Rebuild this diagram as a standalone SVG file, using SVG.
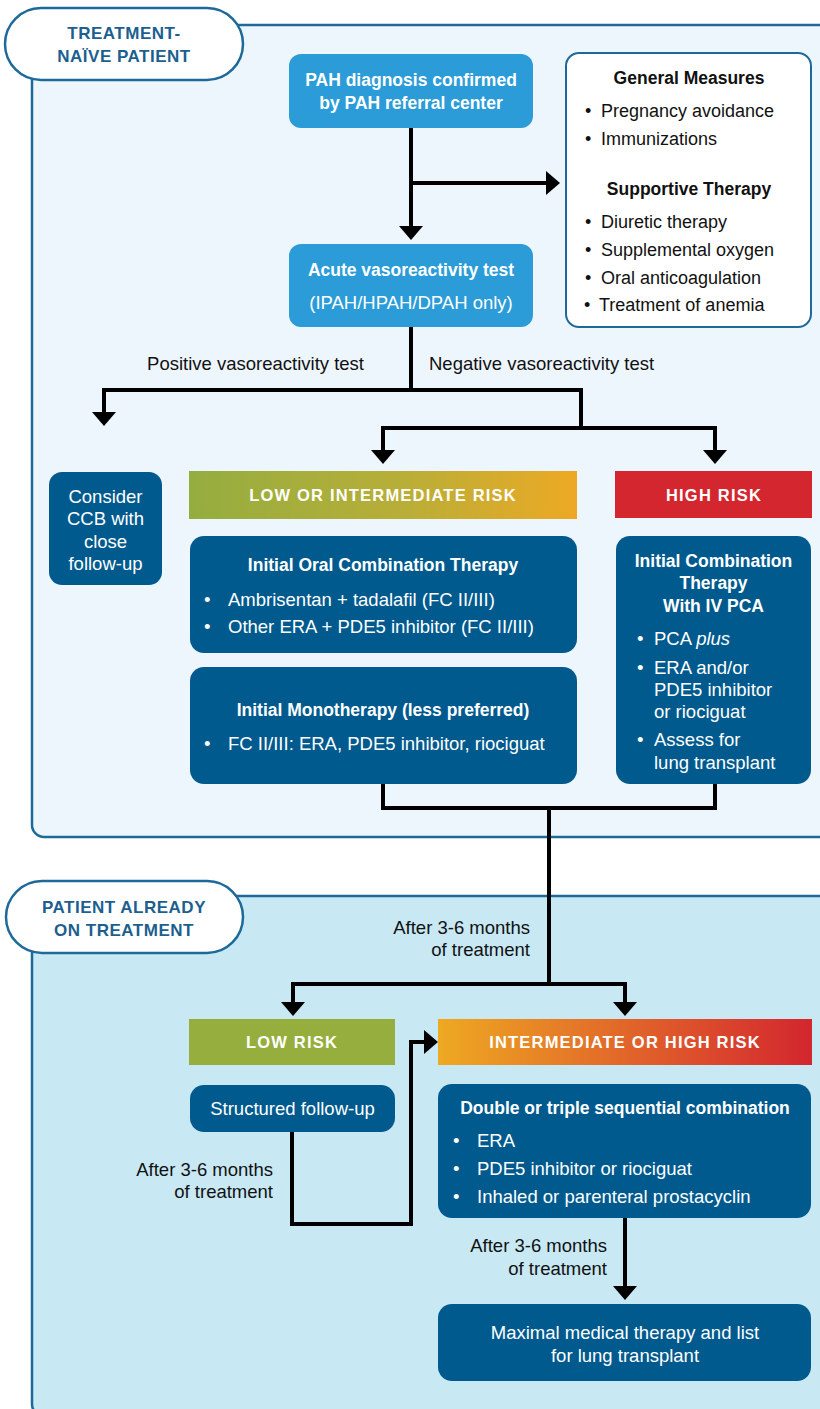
<svg xmlns="http://www.w3.org/2000/svg" width="820" height="1409" viewBox="0 0 820 1409">
<defs>
<style>
text{font-family:"Liberation Sans","DejaVu Sans",sans-serif;}
.panel{stroke:#1d6a9a;stroke-width:2.5;}
.pill{fill:#ffffff;stroke:#1d6a9a;stroke-width:2.5;}
.pilltxt{fill:#1c5f8f;font-weight:bold;font-size:17px;text-anchor:middle;letter-spacing:0.5px;}
.lb{fill:#2b9cd8;}
.db{fill:#005a8e;}
.wb{fill:#ffffff;stroke:#1d6a9a;stroke-width:2;}
.wt{fill:#ffffff;font-size:18.5px;}
.wtb{fill:#ffffff;font-size:17.5px;font-weight:bold;}
.c{text-anchor:middle;}
.r{text-anchor:end;}
.kt{fill:#111111;font-size:18px;}
.ktb{fill:#111111;font-size:17.5px;font-weight:bold;}
.risk{fill:#ffffff;font-size:16.5px;font-weight:bold;text-anchor:middle;letter-spacing:1.2px;}
.lbl{fill:#111111;font-size:18.5px;}
.conn{fill:none;stroke:#000000;stroke-width:4;stroke-linejoin:miter;}
</style>
<marker id="arr" markerUnits="userSpaceOnUse" markerWidth="16" markerHeight="26" viewBox="0 0 15 26" refX="4" refY="13" orient="auto">
<path d="M0,1 L14,13 L0,25 z" fill="#000000"/>
</marker>
<linearGradient id="gLowInt" x1="0" y1="0" x2="1" y2="0">
<stop offset="0" stop-color="#94ad3f"/>
<stop offset="0.55" stop-color="#b8ae38"/>
<stop offset="1" stop-color="#eda924"/>
</linearGradient>
<linearGradient id="gIntHigh" x1="0" y1="0" x2="1" y2="0">
<stop offset="0" stop-color="#eea922"/>
<stop offset="0.5" stop-color="#e1662a"/>
<stop offset="1" stop-color="#d3262f"/>
</linearGradient>
</defs>

<g id="panel-naive">
<rect class="panel" x="32" y="25" width="800" height="812" rx="12" fill="#eef6fd"/>
</g>
<g id="panel-treated">
<rect class="panel" x="32" y="896" width="800" height="520" rx="12" fill="#c8e8f4"/>
</g>

<g id="pill-naive">
<rect class="pill" x="5" y="8" width="238" height="72" rx="36"/>
<text class="pilltxt" x="124" y="39">TREATMENT-</text>
<text class="pilltxt" x="124" y="62">NAÏVE PATIENT</text>
</g>
<g id="pill-treated">
<rect class="pill" x="6" y="881" width="237" height="72" rx="36"/>
<text class="pilltxt" x="124" y="913">PATIENT ALREADY</text>
<text class="pilltxt" x="124" y="936">ON TREATMENT</text>
</g>

<g id="connectors">
<path class="conn" d="M411,128 V230" marker-end="url(#arr)"/>
<path class="conn" d="M411,183 H550" marker-end="url(#arr)"/>
<path class="conn" d="M411,327 V390 H104 V416" marker-end="url(#arr)"/>
<path class="conn" d="M409,390 H581 V428"/>
<path class="conn" d="M581,428 H383 V454" marker-end="url(#arr)"/>
<path class="conn" d="M579,428 H715 V454" marker-end="url(#arr)"/>
<path class="conn" d="M383,784 V808 H715 V784"/>
<path class="conn" d="M549,808 V984"/>
<path class="conn" d="M551,984 H293 V1006" marker-end="url(#arr)"/>
<path class="conn" d="M547,984 H625 V1006" marker-end="url(#arr)"/>
<path class="conn" d="M292,1132 V1224 H411 V1042 H428" marker-end="url(#arr)"/>
<path class="conn" d="M625,1218 V1290" marker-end="url(#arr)"/>
</g>

<g id="lbl-positive"><text class="lbl r" x="364" y="369.5">Positive vasoreactivity test</text></g>
<g id="lbl-negative"><text class="lbl" x="429" y="369.5">Negative vasoreactivity test</text></g>
<g id="lbl-after1"><text class="lbl r" x="530" y="933.5">After 3-6 months</text><text class="lbl r" x="530" y="955.5">of treatment</text></g>
<g id="lbl-after2"><text class="lbl r" x="273" y="1175.5">After 3-6 months</text><text class="lbl r" x="273" y="1197.5">of treatment</text></g>
<g id="lbl-after3"><text class="lbl r" x="607" y="1251.5">After 3-6 months</text><text class="lbl r" x="607" y="1274.5">of treatment</text></g>

<g id="node-diagnosis">
<rect class="lb" x="289" y="54" width="244" height="74" rx="12"/>
<text class="wtb c" x="411" y="86">PAH diagnosis confirmed</text>
<text class="wtb c" x="411" y="109">by PAH referral center</text>
</g>

<g id="node-vasotest">
<rect class="lb" x="289" y="244" width="244" height="83" rx="12"/>
<text class="wtb c" x="411" y="276">Acute vasoreactivity test</text>
<text class="wt c" x="411" y="308.5">(IPAH/HPAH/DPAH only)</text>
</g>

<g id="node-general">
<rect class="wb" x="566" y="53" width="245" height="274" rx="13"/>
<text class="ktb c" x="689" y="84">General Measures</text>
<text class="kt" x="585" y="117">•</text><text class="kt" x="601" y="117">Pregnancy avoidance</text>
<text class="kt" x="585" y="145">•</text><text class="kt" x="601" y="145">Immunizations</text>
<text class="ktb c" x="689" y="195">Supportive Therapy</text>
<text class="kt" x="585" y="228">•</text><text class="kt" x="601" y="228">Diuretic therapy</text>
<text class="kt" x="585" y="256">•</text><text class="kt" x="601" y="256">Supplemental oxygen</text>
<text class="kt" x="585" y="284">•</text><text class="kt" x="601" y="284">Oral anticoagulation</text>
<text class="kt" x="584" y="311">•</text><text class="kt" x="599" y="311">Treatment of anemia</text>
</g>

<g id="node-ccb">
<rect class="db" x="49" y="472" width="113" height="113" rx="13"/>
<text class="wt c" x="105.5" y="502.5">Consider</text>
<text class="wt c" x="105.5" y="524.5">CCB with</text>
<text class="wt c" x="105.5" y="547.5">close</text>
<text class="wt c" x="105.5" y="569.5">follow-up</text>
</g>

<g id="bar-lowint">
<rect x="189" y="471" width="388" height="48" fill="url(#gLowInt)"/>
<text class="risk" x="383" y="501">LOW OR INTERMEDIATE RISK</text>
</g>

<g id="bar-high">
<rect x="615" y="471" width="197" height="47" fill="#d3262f"/>
<text class="risk" x="714" y="501">HIGH RISK</text>
</g>

<g id="node-oralcombo">
<rect class="db" x="190" y="536" width="387" height="117" rx="14"/>
<text class="wtb c" x="383" y="571">Initial Oral Combination Therapy</text>
<text class="wt" x="204" y="605.5">•</text>
<text class="wt" x="228" y="605.5">Ambrisentan + tadalafil (FC II/III)</text>
<text class="wt" x="204" y="632.5">•</text>
<text class="wt" x="228" y="632.5">Other ERA + PDE5 inhibitor (FC II/III)</text>
</g>

<g id="node-mono">
<rect class="db" x="190" y="667" width="387" height="117" rx="14"/>
<text class="wtb c" x="383" y="716">Initial Monotherapy (less preferred)</text>
<text class="wt" x="204" y="749.5">•</text>
<text class="wt" x="228" y="749.5">FC II/III: ERA, PDE5 inhibitor, riociguat</text>
</g>

<g id="node-highcombo">
<rect class="db" x="616" y="536" width="195" height="248" rx="14"/>
<text class="wtb c" x="713.5" y="567">Initial Combination</text>
<text class="wtb c" x="713.5" y="589">Therapy</text>
<text class="wtb c" x="713.5" y="612">With IV PCA</text>
<text class="wt" x="637" y="644.5">•</text>
<text class="wt" x="654" y="644.5">PCA <tspan font-style="italic">plus</tspan></text>
<text class="wt" x="637" y="673.5">•</text>
<text class="wt" x="654" y="673.5">ERA and/or</text>
<text class="wt" x="654" y="695.5">PDE5 inhibitor</text>
<text class="wt" x="654" y="717.5">or riociguat</text>
<text class="wt" x="637" y="745.5">•</text>
<text class="wt" x="654" y="745.5">Assess for</text>
<text class="wt" x="654" y="768.5">lung transplant</text>
</g>

<g id="bar-low">
<rect x="189" y="1019" width="206" height="46" fill="#95ae3e"/>
<text class="risk" x="292" y="1048">LOW RISK</text>
</g>

<g id="bar-inthigh">
<rect x="438" y="1019" width="374" height="46" fill="url(#gIntHigh)"/>
<text class="risk" x="625" y="1048">INTERMEDIATE OR HIGH RISK</text>
</g>

<g id="node-followup">
<rect class="db" x="190" y="1085" width="205" height="47" rx="14"/>
<text class="wt c" x="292.5" y="1115">Structured follow-up</text>
</g>

<g id="node-sequential">
<rect class="db" x="438" y="1084" width="373" height="134" rx="14"/>
<text class="wtb c" x="625" y="1114">Double or triple sequential combination</text>
<text class="wt" x="453" y="1146.5">•</text>
<text class="wt" x="477" y="1146.5">ERA</text>
<text class="wt" x="453" y="1174.5">•</text>
<text class="wt" x="477" y="1174.5">PDE5 inhibitor or riociguat</text>
<text class="wt" x="453" y="1202.5">•</text>
<text class="wt" x="477" y="1202.5">Inhaled or parenteral prostacyclin</text>
</g>

<g id="node-maximal">
<rect class="db" x="438" y="1304" width="373" height="77" rx="14"/>
<text class="wt c" x="625" y="1338.5">Maximal medical therapy and list</text>
<text class="wt c" x="625" y="1361.5">for lung transplant</text>
</g>
</svg>
